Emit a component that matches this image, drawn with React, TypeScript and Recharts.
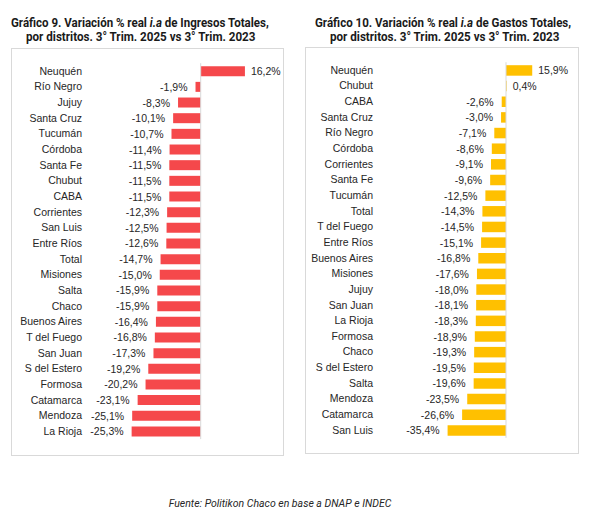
import { useLayoutEffect, useRef, useState } from "react";
import type { ReactNode } from "react";
import { Bar, BarChart, LabelList, ReferenceLine, XAxis, YAxis } from "recharts";

const ingresosDistritos = [
  "Neuquén", "Río Negro", "Jujuy", "Santa Cruz", "Tucumán", "Córdoba", "Santa Fe", "Chubut",
  "CABA", "Corrientes", "San Luis", "Entre Ríos", "Total", "Misiones", "Salta", "Chaco",
  "Buenos Aires", "T del Fuego", "San Juan", "S del Estero", "Formosa", "Catamarca", "Mendoza", "La Rioja",
];
const ingresosValores = [
  16.2, -1.9, -8.3, -10.1, -10.7, -11.4, -11.5, -11.5, -11.5, -12.3, -12.5, -12.6,
  -14.7, -15.0, -15.9, -15.9, -16.4, -16.8, -17.3, -19.2, -20.2, -23.1, -25.1, -25.3,
];

const gastosDistritos = [
  "Neuquén", "Chubut", "CABA", "Santa Cruz", "Río Negro", "Córdoba", "Corrientes", "Santa Fe",
  "Tucumán", "Total", "T del Fuego", "Entre Ríos", "Buenos Aires", "Misiones", "Jujuy", "San Juan",
  "La Rioja", "Formosa", "Chaco", "S del Estero", "Salta", "Mendoza", "Catamarca", "San Luis",
];
const gastosValores = [
  15.9, 0.4, -2.6, -3.0, -7.1, -8.6, -9.1, -9.6, -12.5, -14.3, -14.5, -15.1,
  -16.8, -17.6, -18.0, -18.1, -18.3, -18.9, -19.3, -19.5, -19.6, -23.5, -26.6, -35.4,
];

const LABEL_FONT = "'Liberation Sans', Arial, sans-serif";
const TITLE_FONT = "Roboto, sans-serif";

const fmt = (v: number) => `${v.toFixed(1).replace(".", ",")}%`;

function ValueLabel(props: any) {
  const { x, y, width, height, value } = props;
  const left = Math.min(x, x + width);
  const right = Math.max(x, x + width);
  const neg = value < 0;
  return (
    <text
      x={neg ? left - 8 : right + 6}
      y={y + height / 2}
      textAnchor={neg ? "end" : "start"}
      dominantBaseline="central"
      fontSize={10.5}
      fontFamily={LABEL_FONT}
      fill="#262626"
    >
      {fmt(value)}
    </text>
  );
}

function DistritoChart({
  names,
  values,
  color,
  axisWidth,
  labelGap,
  barSize,
  margin,
}: {
  names: string[];
  values: number[];
  color: string;
  axisWidth: number;
  labelGap: number;
  barSize: number;
  margin: { top: number; right: number; bottom: number; left: number };
}) {
  const data = names.map((name, i) => ({ name, value: values[i] }));
  return (
    <BarChart width={290} height={407} data={data} layout="vertical" margin={margin}>
      <XAxis type="number" domain={[-40, 20]} hide />
      <YAxis
        type="category"
        dataKey="name"
        width={axisWidth}
        axisLine={false}
        tickLine={false}
        tickSize={0}
        tickMargin={labelGap}
        interval={0}
        tick={{ fontSize: 10.5, fontFamily: LABEL_FONT, fill: "#262626" }}
      />
      <ReferenceLine x={0} stroke="#D9D9D9" />
      <Bar dataKey="value" fill={color} barSize={barSize} isAnimationActive={false}>
        <LabelList dataKey="value" content={ValueLabel} />
      </Bar>
    </BarChart>
  );
}

// squeezes a bold title line to the width it takes in the reference
function FitLine({ left, top, width, children }: { left: number; top: number; width: number; children: ReactNode }) {
  const ref = useRef<HTMLSpanElement>(null);
  const [k, setK] = useState(1);
  useLayoutEffect(() => {
    if (ref.current && ref.current.offsetWidth > 0) setK(width / ref.current.offsetWidth);
  }, [width]);
  return (
    <div style={{ position: "absolute", left, top, lineHeight: "14px" }}>
      <span
        ref={ref}
        style={{
          display: "inline-block",
          whiteSpace: "nowrap",
          fontFamily: TITLE_FONT,
          fontWeight: 700,
          fontSize: 12.5,
          color: "#1a1a1a",
          transform: `scaleX(${k})`,
          transformOrigin: "0 0",
        }}
      >
        {children}
      </span>
    </div>
  );
}

export default function App() {
  return (
    <div style={{ position: "absolute", left: 0, top: 0, width: 599, height: 531, background: "#fff" }}>
      <FitLine left={11} top={15} width={258}>
        Gráfico 9. Variación % real <i>i.a</i> de Ingresos Totales,
      </FitLine>
      <FitLine left={26} top={28.5} width={229}>
        por distritos. 3° Trim. 2025 vs 3° Trim. 2023
      </FitLine>
      <FitLine left={315} top={15} width={256}>
        Gráfico 10. Variación % real <i>i.a</i> de Gastos Totales,
      </FitLine>
      <FitLine left={330} top={28.5} width={229}>
        por distritos. 3° Trim. 2025 vs 3° Trim. 2023
      </FitLine>

      <div style={{ position: "absolute", left: 11, top: 48, width: 271, height: 406, border: "1px solid #D9D9D9" }} />
      <div style={{ position: "absolute", left: 305, top: 47, width: 272, height: 405, border: "1px solid #D9D9D9" }} />

      <div style={{ position: "absolute", left: 0, top: 48 }}>
        <DistritoChart
          names={ingresosDistritos}
          values={ingresosValores}
          color="#F5484B"
          axisWidth={91.5}
          labelGap={9.5}
          barSize={10}
          margin={{ top: 15.2, right: 34.7, bottom: 15.9, left: 0 }}
        />
      </div>
      <div style={{ position: "absolute", left: 300, top: 48 }}>
        <DistritoChart
          names={gastosDistritos}
          values={gastosValores}
          color="#FFC000"
          axisWidth={140}
          labelGap={67}
          barSize={10.5}
          margin={{ top: 14.2, right: 51, bottom: 17.2, left: 0 }}
        />
      </div>

      <div
        style={{
          position: "absolute",
          left: 0,
          width: 560,
          top: 497,
          textAlign: "center",
          fontFamily: "Roboto, sans-serif",
          fontStyle: "italic",
          fontSize: 10.5,
          color: "#262626",
        }}
      >
        Fuente: Politikon Chaco en base a DNAP e INDEC
      </div>
    </div>
  );
}
